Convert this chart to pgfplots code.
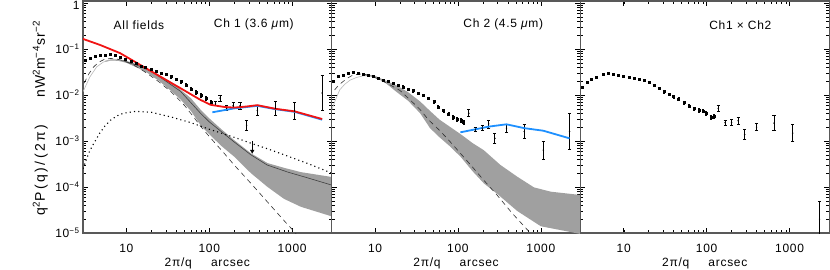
\documentclass[border=0pt]{standalone}
\usepackage{fontspec}
\setmainfont{Liberation Sans}[LetterSpace=6]
\newfontfamily\ylabA{Liberation Sans}[LetterSpace=18]
\newfontfamily\ylabB{Liberation Sans}[LetterSpace=8]
\usepackage{pgfplots}
\usepackage{pgfplotstable}
\pgfplotsset{compat=1.18}
\definecolor{myblue}{RGB}{30,144,255}
\definecolor{myred}{RGB}{240,20,20}
\definecolor{band}{RGB}{160,160,160}

% dense points: x y r (relative error)
\pgfplotstableread{
x y r
3.2 0.058 0.04
3.68 0.063 0.04
4.23 0.068 0.04
4.87 0.072 0.04
5.6 0.074 0.04
6.44 0.075 0.04
7.4 0.072 0.04
8.5 0.066 0.04
9.8 0.060 0.04
11.3 0.055 0.04
13.0 0.048 0.04
14.9 0.043 0.05
17.1 0.040 0.05
19.7 0.036 0.05
22.7 0.033 0.05
26.1 0.030 0.05
30.0 0.028 0.06
34.5 0.025 0.06
39.7 0.022 0.06
45.6 0.0195 0.07
52.5 0.0165 0.07
60.3 0.0135 0.08
69.4 0.0115 0.08
79.8 0.0100 0.09
91.8 0.0085 0.10
105.5 0.0070 0.10
}\denseA
\pgfplotstableread{
x y lo hi
119 0.0064 0.0058 0.0071
135 0.0085 0.0073 0.0099
162 0.0051 0.0045 0.0058
194 0.0058 0.0050 0.0067
235 0.0058 0.0049 0.0068
282 0.0022 0.0017 0.0028
380 0.0046 0.0036 0.0058
630 0.0051 0.0036 0.0072
1070 0.0045 0.0029 0.0070
2300 0.011 0.0045 0.027
}\sparseA

\pgfplotstableread{
x y r
3.1 0.0195 0.04
3.57 0.025 0.04
4.1 0.027 0.04
4.7 0.0296 0.04
5.4 0.0306 0.04
6.25 0.030 0.04
7.2 0.0288 0.04
8.3 0.027 0.04
9.5 0.025 0.04
11 0.023 0.04
12.6 0.021 0.04
14.5 0.0195 0.05
16.6 0.0179 0.05
19.1 0.0165 0.05
22 0.0151 0.05
25.3 0.0135 0.05
29 0.0124 0.06
33.4 0.011 0.06
38.4 0.0097 0.06
44 0.0085 0.07
51 0.0072 0.07
58 0.0055 0.08
67 0.0046 0.08
77 0.0039 0.09
87 0.0033 0.10
98 0.0030 0.10
108 0.0028 0.10
117 0.0025 0.10
}\denseB
\pgfplotstableread{
x y lo hi
135 0.0040 0.0034 0.0048
162 0.00174 0.00157 0.00192
196 0.0019 0.00168 0.00215
235 0.00234 0.00191 0.00286
279 0.00114 0.00087 0.00149
385 0.0019 0.00155 0.00232
630 0.0016 0.00113 0.00227
1070 0.00063 0.00040 0.00099
2220 0.0016 0.00065 0.0039
}\sparseB

\pgfplotstableread{
x y r
3.14 0.0151 0.04
3.6 0.0185 0.04
4.1 0.0215 0.04
4.7 0.0243 0.04
5.7 0.0288 0.04
6.55 0.0296 0.04
7.5 0.0288 0.04
8.65 0.0272 0.04
9.95 0.026 0.04
11.5 0.0243 0.04
13.2 0.0232 0.04
15.2 0.0222 0.05
17.5 0.0204 0.05
20 0.0185 0.05
23 0.0165 0.05
26.5 0.014 0.05
30.5 0.0118 0.06
35 0.0104 0.06
40 0.0092 0.06
46 0.0082 0.07
53 0.0068 0.07
61 0.0058 0.08
71 0.0051 0.08
81 0.0047 0.09
90 0.0045 0.09
98 0.0040 0.10
112 0.0033 0.10
124 0.0034 0.10
}\denseC
\pgfplotstableread{
x y lo hi
138 0.0051 0.0044 0.0059
167 0.0025 0.0022 0.00283
200 0.0025 0.00212 0.00295
240 0.00275 0.00233 0.00325
288 0.00138 0.00106 0.0018
400 0.0020 0.00166 0.0024
650 0.00245 0.00166 0.00362
1090 0.00148 0.00098 0.00224
2300 0.00002 0.0000081 0.000049
}\sparseC

\pgfplotsset{
  mypanel/.style={
    scale only axis, width=248.7pt, height=232pt,
    xmin=3, xmax=3000, ymin=1e-5, ymax=1.1,
    xtick={10,100,1000}, xticklabels={10,100,1000},
    ytick={1e-5,1e-4,1e-3,1e-2,1e-1,1},
    tick align=inside,
    major tick length=5pt, minor tick length=3pt,
    every tick/.style={black, line width=0.6pt},
    every minor tick/.style={black, line width=0.5pt},
    axis line style={line width=1.2pt, black!65},
    font=\fontsize{12}{14}\selectfont,
    xticklabel style={anchor=center, yshift=-15pt},
    xlabel={2π/q\hspace{1.6em}arcsec},
    xlabel style={at={(axis description cs:0.5,-0.13)}, anchor=center},
  },
  mydense/.style={black, only marks, mark=square*, mark size=1pt,
    error bars/y dir=both, error bars/y explicit relative,
    error bars/error mark options={rotate=90, mark size=1pt, line width=0.6pt}},
  mysparse/.style={black, only marks, mark=*, mark size=0.5pt,
    error bars/y dir=both, error bars/y explicit,
    error bars/error bar style={line width=1pt},
    error bars/error mark options={rotate=90, mark size=1.6pt, line width=0.9pt}},
}

\begin{document}
\begin{tikzpicture}
\path[use as bounding box] (0,0) rectangle (830pt,270pt);

% ---------------- Panel 1 ----------------
\begin{loglogaxis}[mypanel, at={(83pt,37pt)}, anchor=south west,
  yticklabels={10\textsuperscript{−5},10\textsuperscript{−4},10\textsuperscript{−3},10\textsuperscript{−2},10\textsuperscript{−1},\raisebox{-7pt}[0pt][0pt]{1}},
  ylabel={\fontsize{14}{16}\selectfont\makebox[114pt][c]{\ylabA q\textsuperscript{2}P(q)/(2π)}\hspace{13pt}\makebox[82pt][c]{\ylabB nW\textsuperscript{2}m\textsuperscript{−4}sr\textsuperscript{−2}}},
  ylabel style={at={(axis description cs:-0.172,0.476)}, anchor=center}]
\addplot[fill=band, draw=none] coordinates {
(5.5,0.055)(6.5,0.059)(8,0.059)(10,0.055)(14,0.045)(18,0.037)(25,0.027)(35,0.019)(45,0.013)(60,0.0085)(78.5,0.0048)(100,0.0031)(140,0.0018)(199,0.00105)(318,0.00054)(505,0.00033)(803,0.00026)(1280,0.00021)(3000,0.000165)
(3000,0.000023)(1280,0.000037)(800,0.000055)(505,0.0001)(318,0.0002)(199,0.00046)(140,0.00078)(100,0.0014)(78.5,0.0022)(60,0.0045)(45,0.0080)(35,0.012)(25,0.020)(18,0.030)(14,0.038)(10,0.050)(8,0.055)(6.5,0.056)(5.5,0.052)};
\addplot[gray!55, line width=0.6pt] coordinates {
(3.0,0.0117)(3.3,0.017)(3.65,0.025)(4.4,0.041)(5.3,0.052)(6.4,0.057)(7.5,0.058)(9,0.056)(11,0.051)};
\addplot[black!80, line width=0.6pt, dash pattern=on 5pt off 4pt] coordinates {
(3.1,0.018)(3.5,0.028)(4,0.040)(4.6,0.051)(5.4,0.059)(6.4,0.062)(7.5,0.061)(9,0.056)(11,0.049)(14,0.039)(18,0.029)(25,0.019)(35,0.0115)(50,0.0060)(65,0.0033)(78.5,0.0021)(100,0.00125)(150,0.00055)(200,0.0003)(318,0.00012)(500,0.000048)(800,0.0000185)(1000,0.000012)(1150,0.000009)};
\addplot[black!75, line width=0.6pt] coordinates {
(9,0.056)(14,0.043)(20,0.033)(45,0.012)(78.5,0.0040)(100,0.0026)(200,0.00095)(318,0.0005)(500,0.0003)(890,0.00021)(1500,0.00016)(3000,0.00011)};
\addplot[black, line width=1.1pt, dash pattern=on 1.1pt off 3.2pt] coordinates {
(3,0.00025)(3.3,0.0004)(3.6,0.0006)(4,0.00085)(4.8,0.0015)(5.5,0.0021)(6.4,0.0028)(7.7,0.0035)(9.2,0.0040)(13,0.0044)(20,0.0042)(35,0.0033)(60,0.0025)(100,0.0018)(200,0.0012)(320,0.00089)(500,0.00068)(800,0.0005)(1500,0.00033)(3000,0.0002)};
\addplot[black, line width=0.7pt] coordinates {(330,0.00100)(330,0.00062)};
\addplot[black, only marks, mark=triangle*, mark size=2pt, mark options={rotate=180}] coordinates {(330,0.00060)};
\addplot[mydense] table[x=x, y=y, y error=r] {\denseA};
\addplot[mysparse] table[x=x, y=y, y error plus expr=\thisrow{hi}-\thisrow{y}, y error minus expr=\thisrow{y}-\thisrow{lo}] {\sparseA};
\addplot[myblue, line width=1.8pt] coordinates {
(109,0.0042)(199,0.0051)(380,0.0058)(630,0.0049)(1070,0.0043)(2300,0.0029)};
\addplot[myred, line width=1.8pt] coordinates {
(3,0.165)(4.82,0.122)(8.4,0.081)(14.7,0.045)(25.7,0.025)(45,0.014)(78.5,0.0078)(104,0.0061)(150,0.0055)(199,0.0053)(280,0.0056)(380,0.0060)(630,0.0050)(1070,0.0044)(2300,0.0030)};
\node at (rel axis cs:0.225,0.897) {All fields};
\node at (rel axis cs:0.687,0.897) {Ch 1 (3.6 \textit{μ}m)};
\end{loglogaxis}

% ---------------- Panel 2 ----------------
\begin{loglogaxis}[mypanel, at={(331.7pt,37pt)}, anchor=south west, yticklabels={}]
\addplot[fill=band, draw=none] coordinates {
(7,0.027)(8,0.028)(10,0.026)(13,0.021)(18.3,0.016)(25,0.0115)(35,0.0072)(46,0.0045)(60,0.0029)(81,0.0020)(108,0.0014)(150,0.0009)(205,0.00063)(326,0.0003)(520,0.000167)(826,0.000098)(1320,0.000079)(3000,0.000067)
(3000,0.0000095)(2000,0.000011)(1000,0.000014)(520,0.00003)(300,0.00007)(205,0.00012)(150,0.00022)(108,0.00045)(81,0.00075)(60,0.0012)(46,0.0019)(35,0.0040)(25,0.0075)(18.3,0.0115)(13,0.019)(10,0.024)(8,0.026)(7,0.026)};
\addplot[gray!55, line width=0.6pt] coordinates {
(3.0,0.0047)(3.3,0.0075)(3.75,0.0129)(4.3,0.017)(5,0.021)(6,0.024)(7.2,0.026)(8.5,0.026)};
\addplot[black!80, line width=0.6pt, dash pattern=on 5pt off 4pt] coordinates {
(3.25,0.0128)(3.6,0.016)(4.1,0.0195)(4.8,0.024)(5.4,0.027)(6.5,0.0285)(7.5,0.028)(9,0.026)(11,0.022)(15.2,0.0165)(20,0.0125)(26.5,0.0078)(35,0.0048)(44,0.0029)(58,0.0018)(74,0.00114)(100,0.00062)(150,0.00027)(205,0.00014)(300,0.000065)(450,0.000027)(680,0.000012)(750,0.00001)};
\addplot[mydense] table[x=x, y=y, y error=r] {\denseB};
\addplot[mysparse] table[x=x, y=y, y error plus expr=\thisrow{hi}-\thisrow{y}, y error minus expr=\thisrow{y}-\thisrow{lo}] {\sparseB};
\addplot[myblue, line width=1.8pt] coordinates {
(107,0.00154)(235,0.00205)(385,0.0023)(630,0.0019)(1070,0.00167)(2220,0.00114)};
\node at (rel axis cs:0.69,0.897) {Ch 2 (4.5 \textit{μ}m)};
\end{loglogaxis}

% ---------------- Panel 3 ----------------
\begin{loglogaxis}[mypanel, at={(580.4pt,37pt)}, anchor=south west, yticklabels={}]
\addplot[mydense] table[x=x, y=y, y error=r] {\denseC};
\addplot[mysparse] table[x=x, y=y, y error plus expr=\thisrow{hi}-\thisrow{y}, y error minus expr=\thisrow{y}-\thisrow{lo}] {\sparseC};
\node at (rel axis cs:0.643,0.897) {Ch1 × Ch2};
\end{loglogaxis}
\end{tikzpicture}
\end{document}
